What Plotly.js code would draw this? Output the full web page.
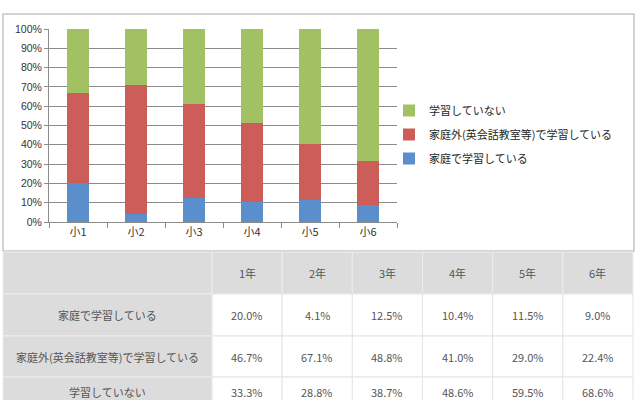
<!DOCTYPE html>
<html>
<head>
<meta charset="utf-8">
<script src="https://cdn.plot.ly/plotly-3.0.1.min.js"></script>
<style>
html, body { margin: 0; padding: 0; background: #ffffff; }
#chart { width: 640px; height: 400px; }
</style>
</head>
<body>
<div id="chart"></div>
<script>
// chart categories and table column heads
var grades = ['小1', '小2', '小3', '小4', '小5', '小6'];
var tableHeads = ['1年', '2年', '3年', '4年', '5年', '6年'];
// series names
var nameHome = '家庭で学習している';
var nameOutside = '家庭外(英会話教室等)で学習している';
var nameNone = '学習していない';
// values in percent
var homeValues = [20.0, 4.1, 12.5, 10.4, 11.5, 9.0];
var outsideValues = [46.7, 67.1, 48.8, 41.0, 29.0, 22.4];
var noneValues = [33.3, 28.8, 38.7, 48.6, 59.5, 68.6];

var W = 640, H = 400;
function px(x) { return x / W; }
function py(y) { return 1 - y / H; }

var tickFont = {family: 'Liberation Sans, Noto Sans CJK JP, sans-serif', size: 10.5, color: '#333333'};
var cjkFont = {family: 'Noto Sans CJK JP, sans-serif', size: 11, color: '#262626'};

function barTrace(name, values, color, rank)
{
    return {
        x: grades,
        y: values,
        name: name,
        type: 'bar',
        legendgroup: name,
        legendrank: rank,
        marker: {color: color, line: {width: 0}},
        hoverinfo: 'skip'
    };
}

var traces = [
    barTrace(nameHome, homeValues, '#5b8fcc', 3),
    barTrace(nameOutside, outsideValues, '#cd5d58', 2),
    barTrace(nameNone, noneValues, '#a2c163', 1)
];

// table under the chart: shapes for cells, annotations for texts
var shapes = [];
var annotations = [];

// chart frame
shapes.push({type: 'rect', xref: 'paper', yref: 'paper', layer: 'below',
    x0: px(3), x1: px(634), y0: py(251), y1: py(14),
    fillcolor: '#ffffff', line: {color: '#c6c6c6', width: 1.5}});

var colEdges = [3, 212];
for (var iii = 1; iii <= tableHeads.length; iii++)
{
    colEdges.push(212 + iii * (633 - 212) / tableHeads.length);
}
var rowEdges = [252, 294, 336, 377, 419];
var rowLabels = ['', nameHome, nameOutside, nameNone];
var rowValues = [null, homeValues, outsideValues, noneValues];

for (var r = 0; r < rowLabels.length; r++)
{
    // last row is cut by the picture edge, keep its text inside
    var textY = r == rowLabels.length - 1 ? rowEdges[r] + 15 : (rowEdges[r] + rowEdges[r + 1]) / 2;
    for (var c = 0; c < colEdges.length - 1; c++)
    {
        var grey = (r == 0 || c == 0);
        shapes.push({type: 'rect', xref: 'paper', yref: 'paper',
            x0: px(colEdges[c]), x1: px(colEdges[c + 1]),
            y0: py(rowEdges[r + 1]), y1: py(rowEdges[r]),
            fillcolor: grey ? '#dcdcdc' : '#ffffff',
            line: {color: grey ? '#ececec' : '#e4e4e4', width: 1}});
        var txt;
        if (r == 0)
            txt = c == 0 ? '' : tableHeads[c - 1];
        else
            txt = c == 0 ? rowLabels[r] : rowValues[r][c - 1].toFixed(1) + '%';
        if (txt == '')
            continue;
        annotations.push({xref: 'paper', yref: 'paper', showarrow: false,
            x: px((colEdges[c] + colEdges[c + 1]) / 2),
            y: py(textY),
            xanchor: 'center', yanchor: 'middle', text: txt,
            font: {family: 'Noto Sans CJK JP, sans-serif', size: 11, color: '#555555'}});
    }
}

var layout =
{
    width: W,
    height: H,
    margin: {l: 0, r: 0, t: 0, b: 0},
    paper_bgcolor: '#ffffff',
    plot_bgcolor: 'rgba(0,0,0,0)',
    barmode: 'stack',
    bargap: 0.62,
    showlegend: true,
    legend: {
        x: px(389), y: py(96), xanchor: 'left', yanchor: 'top',
        traceorder: 'grouped', tracegroupgap: 5,
        font: cjkFont, bgcolor: 'rgba(0,0,0,0)', itemwidth: 30
    },
    xaxis: {
        domain: [px(49), px(397)],
        anchor: 'y',
        showline: true, linecolor: '#8c8c8c', linewidth: 1,
        ticks: 'outside', tickson: 'boundaries', ticklen: 5, tickcolor: '#8c8c8c',
        tickfont: {family: 'Noto Sans CJK JP, sans-serif', size: 11, color: '#333333'},
        fixedrange: true
    },
    yaxis: {
        domain: [py(222), py(29)],
        anchor: 'x',
        range: [0, 100], dtick: 10, ticksuffix: '%',
        showline: true, linecolor: '#8c8c8c', linewidth: 1,
        ticks: 'outside', ticklen: 4, tickcolor: '#8c8c8c',
        showgrid: true, gridcolor: '#8c8c8c', gridwidth: 1,
        zeroline: false,
        tickfont: tickFont,
        fixedrange: true
    },
    shapes: shapes,
    annotations: annotations
};

Plotly.newPlot('chart', traces, layout, {displayModeBar: false, staticPlot: true});
</script>
</body>
</html>
